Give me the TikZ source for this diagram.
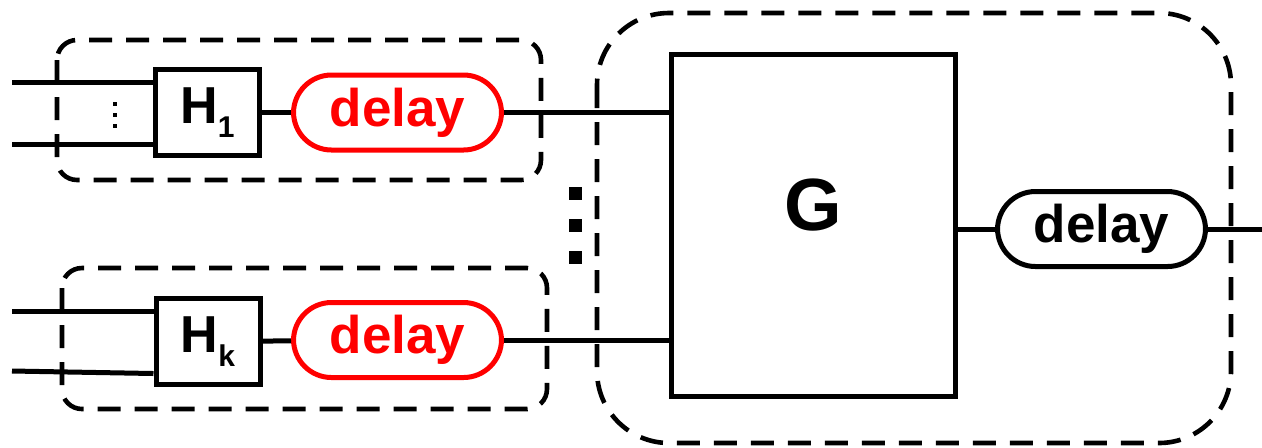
\documentclass[tikz,border=0pt]{standalone}
\usepackage{fontspec}
\setmainfont{Liberation Sans}
\usetikzlibrary{positioning}
\begin{document}
\begin{tikzpicture}[x=0.5pt,y=-0.5pt,line width=2.5pt,
  blk/.style={draw,minimum width=52pt,minimum height=43pt,inner sep=0pt,font=\fontsize{26}{26}\selectfont\bfseries},
  dly/.style={draw,rounded corners=19pt,minimum width=104pt,minimum height=37.5pt,inner sep=0pt,font=\fontsize{26.5}{26.5}\selectfont\bfseries},
  grp/.style={line width=2.3pt,dash pattern=on 11.5pt off 7pt}]

    \useasboundingbox (0,0) rectangle (1262,447);
	% blocks
	\node [blk] (H1) at (207.5,112.5) {H\raisebox{-0.28em}{\fontsize{15}{15}\selectfont 1}};
	\node [blk] (Hk) at (208,341.5) {H\raisebox{-0.28em}{\fontsize{15}{15}\selectfont k}};
	\node [dly,red] (d1) at (397.5,112.5) {delay};
	\node [dly,red] (dk) at (397.5,340) {delay};
	\node [blk,minimum width=142pt,minimum height=171pt,font=\fontsize{37}{37}\selectfont\bfseries] (G) at (813.5,225) {\raisebox{-2.5pt}[0pt][0pt]{G}};
	\node [dly,minimum width=104pt] (dout) at (1101.5,229) {delay};
	\coordinate (i1a) at (12,82);
	\coordinate (i1b) at (12,144);
	\coordinate (ika) at (12,311);
	\coordinate (ikb) at (12,371);
	\coordinate (out) at (1262,229);
	% edges
	\draw (i1a) to (i1a -| H1.west);
	\draw (i1b) to (i1b -| H1.west);
	\draw (ika) to (ika -| Hk.west);
	\draw (ikb) to ([yshift=-16pt]Hk.west);
	\draw (H1) to (d1);
	\draw (Hk) to (dk);
	\draw (d1.east) to (d1.east -| G.west);
	\draw (dk.east) to (dk.east -| G.west);
	\draw (G.east |- dout) to (dout.west);
	\draw (dout.east) to (out);
	% dots
	\foreach \y in {104,115,126} \fill (113,\y-2) rectangle (117,\y+2);
	\foreach \y in {193.5,225,257.5} \fill (569,\y-6.5) rectangle (582,\y+6.5);
	% groups
	\draw [grp,rounded corners=10pt] (57,40) rectangle (541,180);
	\draw [grp,rounded corners=10pt] (62,268) rectangle (547,409);
	\draw [grp,rounded corners=36pt] (597,13) rectangle (1231,443);
\end{tikzpicture}
\end{document}
